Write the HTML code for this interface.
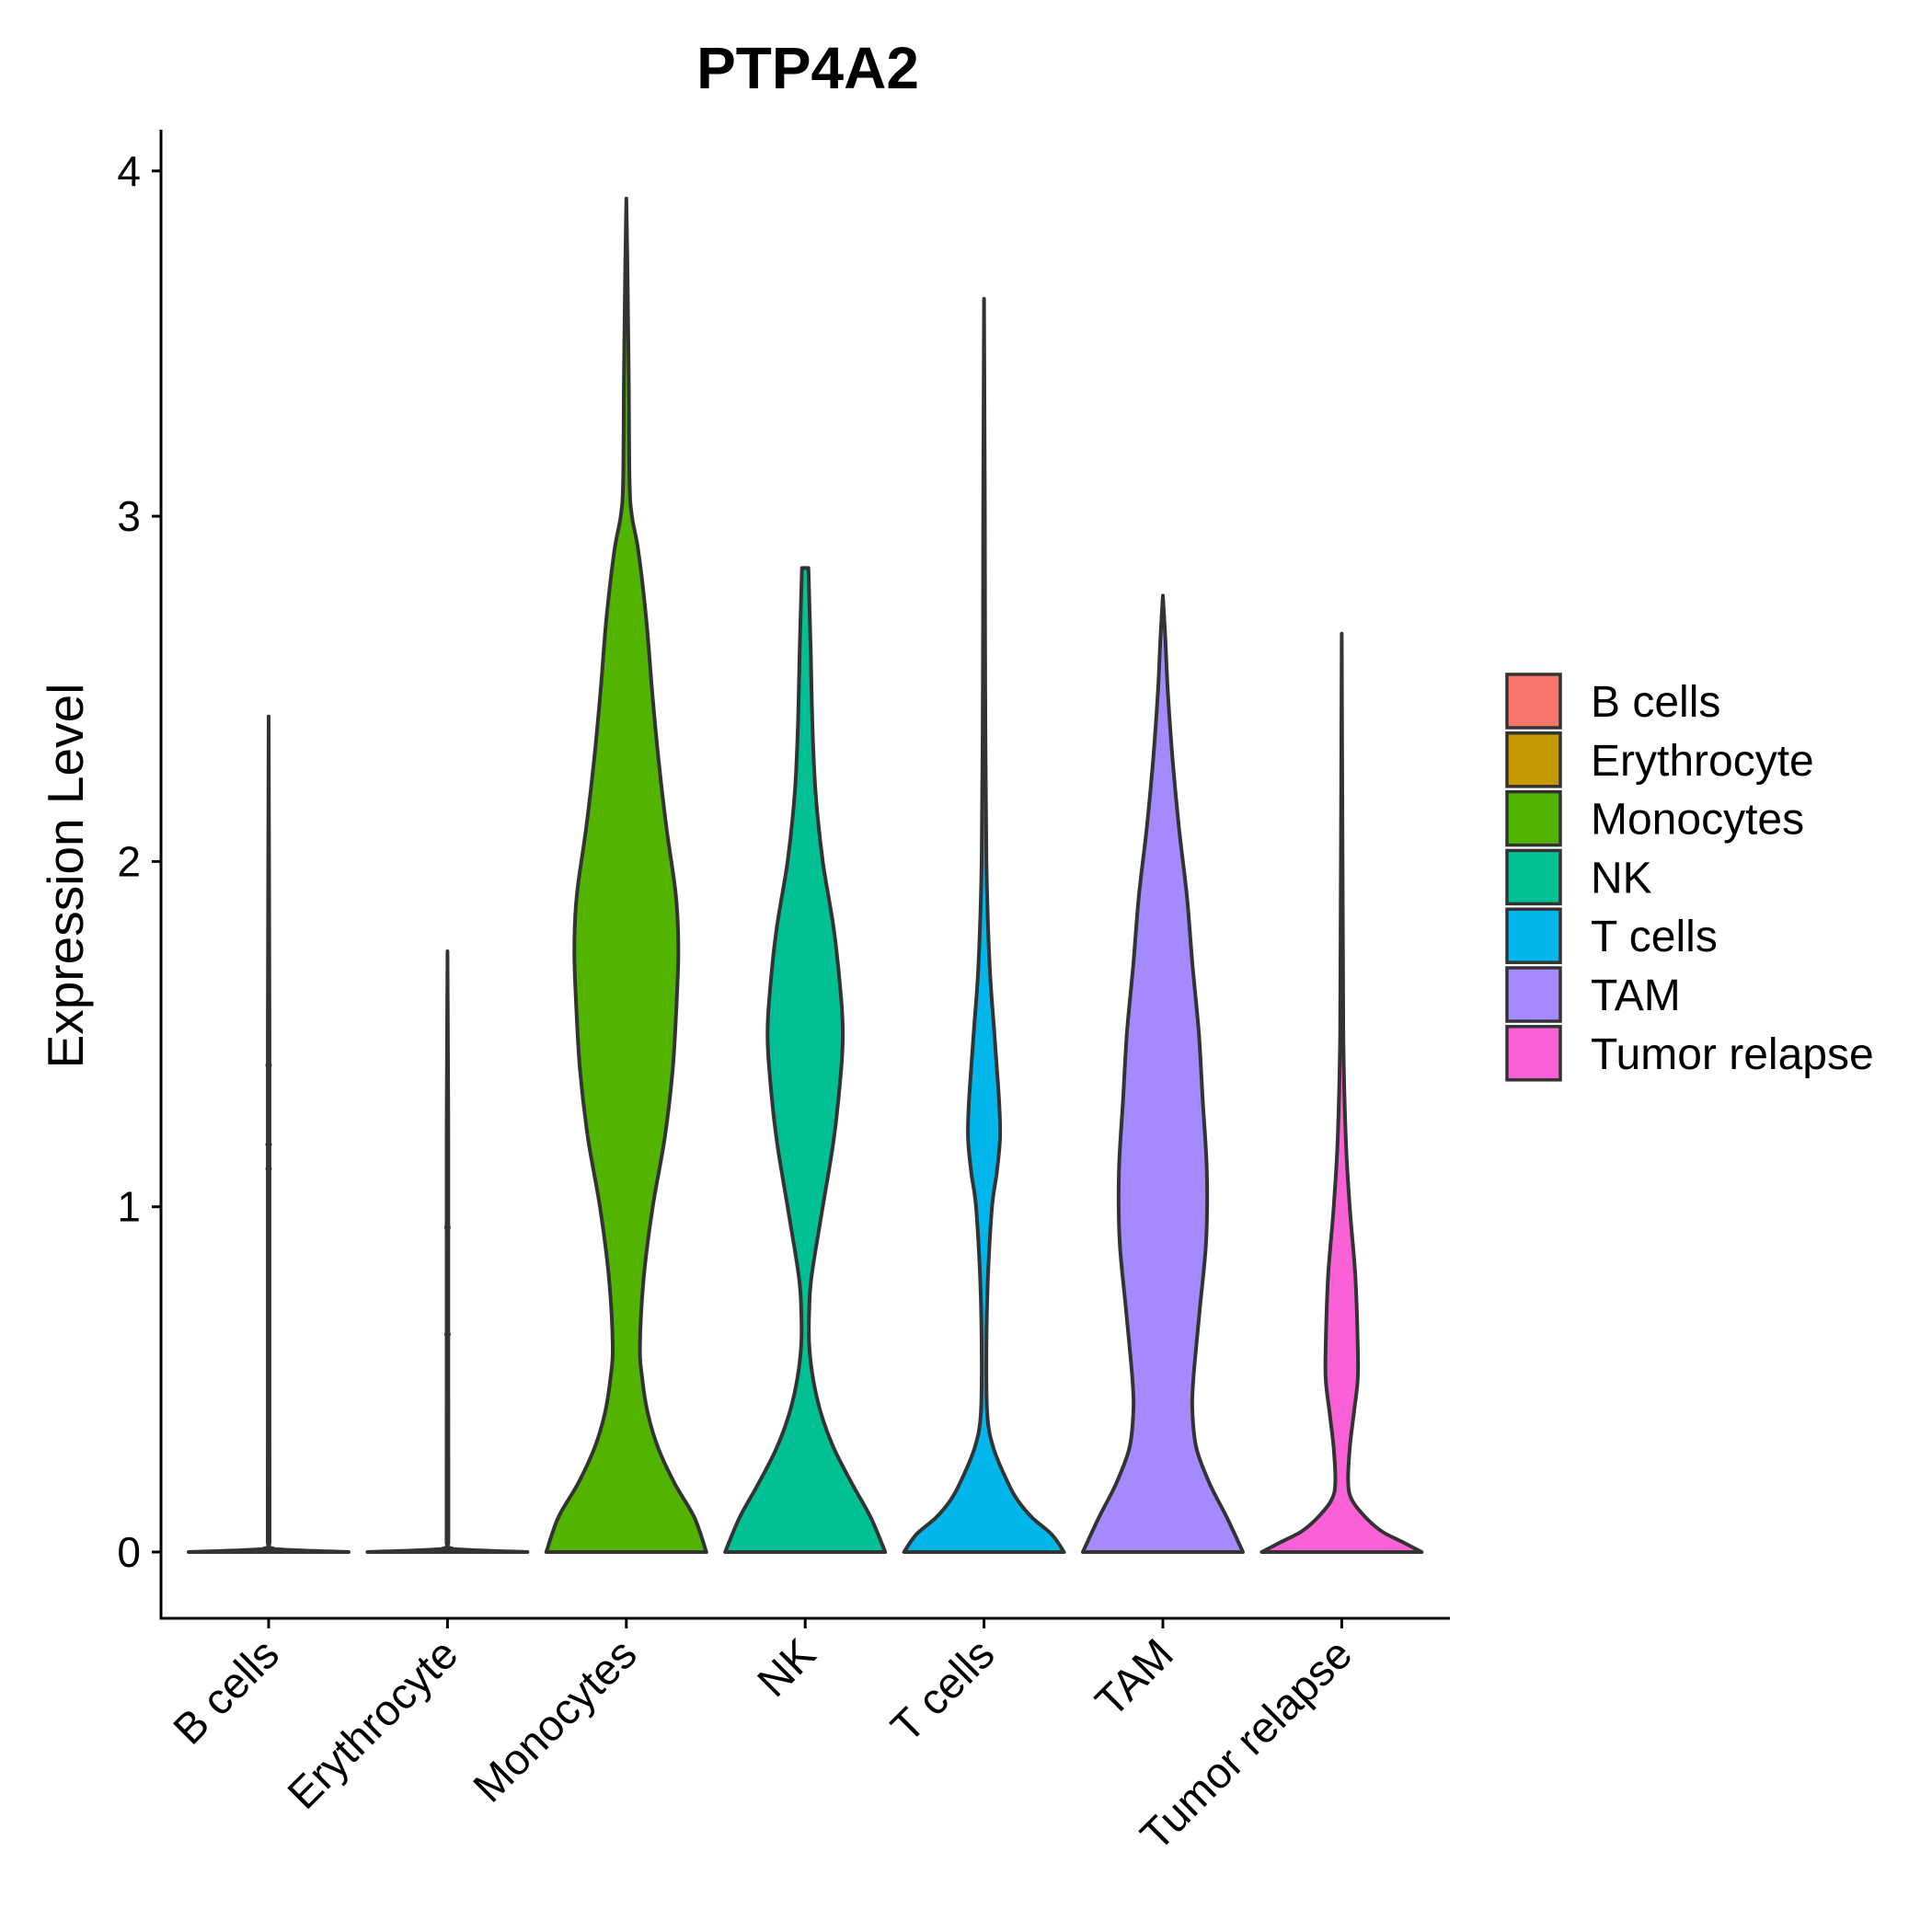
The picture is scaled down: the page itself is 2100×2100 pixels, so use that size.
<!DOCTYPE html>
<html><head><meta charset="utf-8"><style>
body{margin:0;background:#fff}
svg{display:block;font-family:"Liberation Sans",Arial,sans-serif}
</style></head><body>
<svg id="chart" width="2100" height="2100" viewBox="0 0 2100 2100" xmlns="http://www.w3.org/2000/svg">
<text x="878" y="96" text-anchor="middle" font-size="64" font-weight="bold">PTP4A2</text>
<g id="plot"></g>
<text transform="translate(90,952) rotate(-90)" text-anchor="middle" font-size="55">Expression Level</text>
<g id="legend"></g>
</svg>
<script>
const categories=["B cells","Erythrocyte","Monocytes","NK","T cells","TAM","Tumor relapse"];
const colors=["#F8766D","#C49A00","#53B400","#00C094","#00B6EB","#A58AFF","#FB61D7"];
const yTicks=[0,1,2,3,4];
const profY=[
[0,0.01,0.03,0.5,1.5,2.42],
[0,0.01,0.03,0.5,1.2,1.74],
[0,0.1,0.2,0.3,0.4,0.5,0.6,0.8,1.0,1.2,1.4,1.6,1.75,1.9,2.1,2.3,2.5,2.7,2.9,3.0,3.1,3.4,3.7,3.92],
[0,0.1,0.2,0.3,0.4,0.5,0.6,0.7,0.8,1.0,1.2,1.4,1.5,1.6,1.8,2.0,2.2,2.4,2.6,2.85],
[0,0.05,0.1,0.15,0.2,0.3,0.4,0.6,0.8,1.0,1.1,1.2,1.3,1.5,1.7,2.0,2.5,3.0,3.63],
[0,0.1,0.2,0.3,0.4,0.5,0.7,0.9,1.1,1.3,1.5,1.7,1.9,2.1,2.3,2.5,2.65,2.77],
[0,0.03,0.06,0.1,0.15,0.2,0.3,0.4,0.5,0.6,0.8,1.0,1.2,1.5,2.0,2.66]
];
const profW=[
[1.0,0.02,0.012,0.01,0.01,0],
[1.0,0.02,0.012,0.01,0.01,0],
[1.0,0.85,0.6,0.4,0.27,0.2,0.17,0.22,0.33,0.48,0.58,0.63,0.65,0.62,0.5,0.4,0.32,0.25,0.15,0.07,0.04,0.03,0.015,0],
[1.0,0.82,0.58,0.36,0.2,0.1,0.05,0.05,0.08,0.22,0.36,0.45,0.47,0.45,0.36,0.22,0.13,0.09,0.07,0.04],
[1.0,0.85,0.6,0.42,0.3,0.12,0.04,0.03,0.05,0.1,0.16,0.2,0.19,0.13,0.07,0.03,0.015,0.01,0],
[1.0,0.8,0.58,0.42,0.37,0.38,0.46,0.54,0.55,0.5,0.45,0.37,0.3,0.2,0.12,0.06,0.03,0],
[1.0,0.75,0.5,0.3,0.13,0.08,0.1,0.15,0.2,0.2,0.17,0.1,0.05,0.02,0.01,0]
];
const dotCat=[0,0,0,1,1];
const dotVal=[1.41,1.18,1.11,0.94,0.63];
const NS="http://www.w3.org/2000/svg";
const X0=175,X1=1576,Ytop=141,Yax=1759;
const xScale=i=>292+i*194.4;
const yScale=v=>1687-v*375.3;
const halfMax=87;
const plot=document.getElementById('plot');
function mk(tag,attrs,parent){const e=document.createElementNS(NS,tag);for(const k in attrs)e.setAttribute(k,attrs[k]);(parent||plot).appendChild(e);return e;}
function smooth(pts){
  let d="M"+pts[0][0].toFixed(1)+","+pts[0][1].toFixed(1);
  for(let i=0;i<pts.length-1;i++){
    const p0=pts[Math.max(0,i-1)],p1=pts[i],p2=pts[i+1],p3=pts[Math.min(pts.length-1,i+2)];
    const c1=[p1[0]+(p2[0]-p0[0])/6,Math.min(1687,p1[1]+(p2[1]-p0[1])/6)];
    const c2=[p2[0]-(p3[0]-p1[0])/6,Math.min(1687,p2[1]-(p3[1]-p1[1])/6)];
    d+="C"+c1.map(v=>v.toFixed(1)).join(",")+" "+c2.map(v=>v.toFixed(1)).join(",")+" "+p2[0].toFixed(1)+","+p2[1].toFixed(1);
  }
  return d;
}
categories.forEach((c,i)=>{
  const cx=xScale(i);const ys=profY[i],ws=profW[i];
  let right=[],left=[];
  for(let j=0;j<ys.length;j++)right.push([cx+ws[j]*halfMax,yScale(ys[j])]);
  for(let j=ys.length-1;j>=0;j--)left.push([cx-ws[j]*halfMax,yScale(ys[j])]);
  const d=smooth(right)+smooth(left).replace(/^M/,"L")+"Z";
  const p=mk('path',{d:d,fill:colors[i],stroke:"#333333","stroke-width":4,"stroke-linejoin":"round"});
  
  
});
dotVal.forEach((v,k)=>{
  const dt=mk('circle',{cx:xScale(dotCat[k]),cy:yScale(v),r:3.5,fill:"#333"});
  
  
});
const ya=mk('line',{x1:X0,y1:Ytop,x2:X0,y2:Yax+1.5,stroke:"#000","stroke-width":3});


const xa=mk('line',{x1:X0-1.5,y1:Yax,x2:X1,y2:Yax,stroke:"#000","stroke-width":3});


yTicks.forEach(t=>{
  const y=yScale(t);
  const l=mk('line',{x1:X0-10,y1:y,x2:X0,y2:y,stroke:"#000","stroke-width":3});
  
  
  const tx=mk('text',{x:X0-22,y:y+16,"text-anchor":"end","font-size":46});
  tx.textContent=t;
  
  
});
categories.forEach((c,i)=>{
  const x=xScale(i);
  const l=mk('line',{x1:x,y1:Yax,x2:x,y2:Yax+11,stroke:"#000","stroke-width":3});
  
  
  const tx=mk('text',{x:x+14,y:Yax+42,"text-anchor":"end","font-size":47,transform:`rotate(-45 ${x+14} ${Yax+42})`});
  tx.textContent=c;
  
  
});
const lg=document.getElementById('legend');
categories.forEach((c,i)=>{
  const yc=762+i*63.8;
  const r=mk('rect',{x:1638,y:yc-29,width:58,height:58,fill:colors[i],stroke:"#333333","stroke-width":3.5},lg);
  
  
  const t=mk('text',{x:1729,y:yc+17,"font-size":48},lg);
  t.textContent=c;
  
  
});
</script>
</body></html>
